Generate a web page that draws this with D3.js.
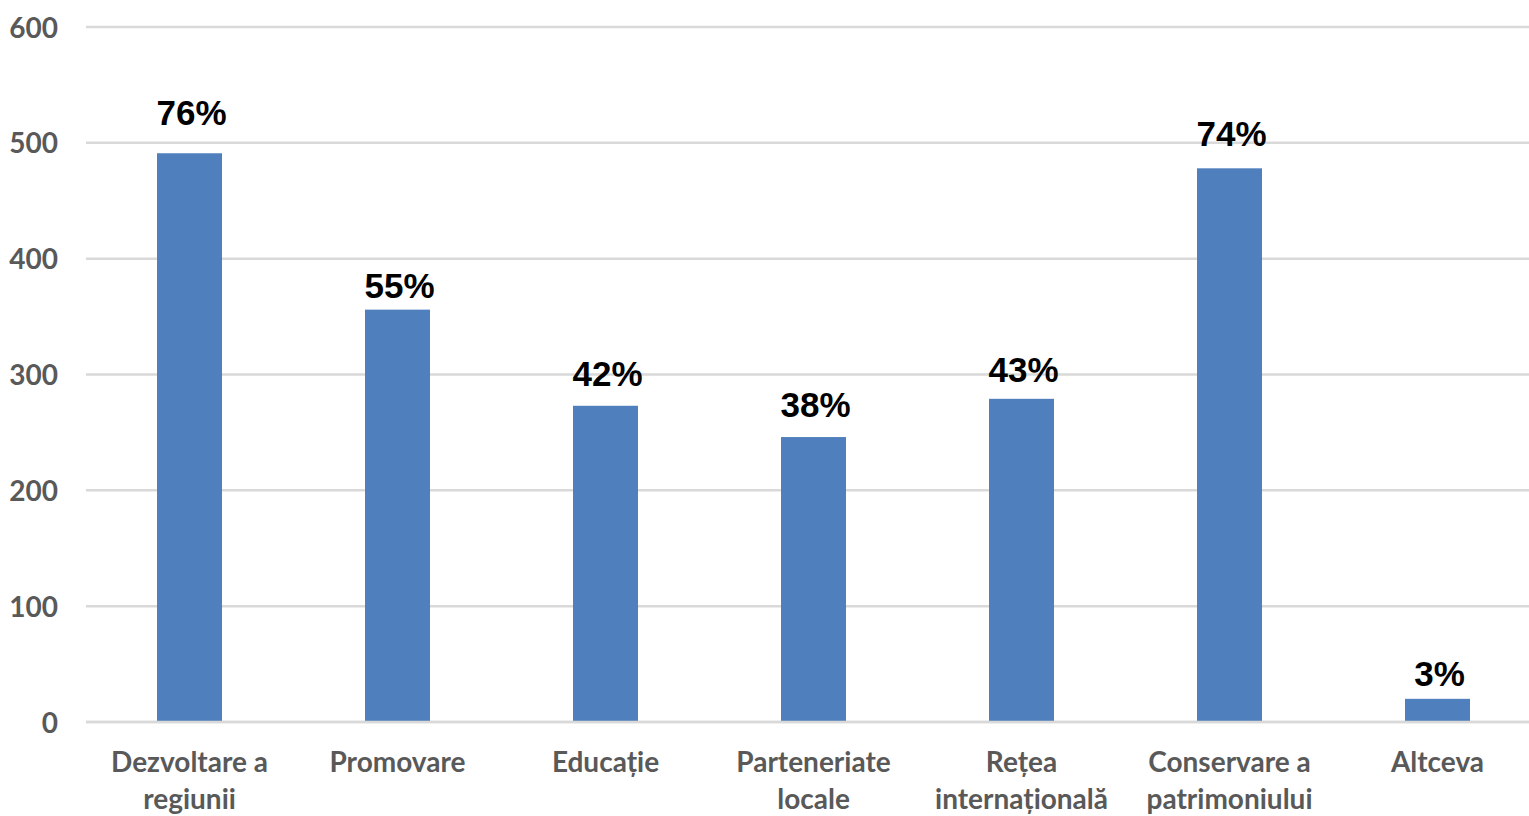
<!DOCTYPE html>
<html>
<head>
<meta charset="utf-8">
<script src="https://cdn.jsdelivr.net/npm/d3@7/dist/d3.min.js"></script>
<style>
  html, body { margin: 0; padding: 0; background: #fff; }
  svg { display: block; }
</style>
</head>
<body>
<svg id="chart" width="1529" height="816"></svg>
<script>
// ---- data ----
const categories = [
  ["Dezvoltare a", "regiunii"],
  ["Promovare"],
  ["Educație"],
  ["Parteneriate", "locale"],
  ["Rețea", "internațională"],
  ["Conservare a", "patrimoniului"],
  ["Altceva"]
];
const values = [491, 356, 273, 246, 279, 478, 20];
const percentLabels = ["76%", "55%", "42%", "38%", "43%", "74%", "3%"];
const yTicks = [0, 100, 200, 300, 400, 500, 600];
// label gap above bar (px), as placed in the original
const labelGap = [28, 12, 20, 20, 17, 22, 13];

// ---- layout ----
const svg = d3.select("#chart");

const x = d3.scaleBand()
  .domain(d3.range(categories.length))
  .range([85.5, 1541.5])
  .paddingInner(0.6875)
  .paddingOuter(0.34375);

const y = d3.scaleLinear().domain([0, 600]).range([722, 27]);

// gridlines
svg.append("g").selectAll("line")
  .data(yTicks)
  .join("line")
  .attr("x1", 86).attr("x2", 1529)
  .attr("y1", d => y(d)).attr("y2", d => y(d))
  .attr("stroke", "#d9d9d9")
  .attr("stroke-width", 2.5);

// y axis labels
const yAxis = d3.axisLeft(y).tickValues(yTicks).tickSize(0).tickPadding(0);
const gy = svg.append("g").attr("transform", "translate(58,0)").call(yAxis);
gy.select(".domain").remove();
gy.selectAll("text")
  .attr("font-family", "Lato, 'Open Sans', sans-serif")
  .attr("font-weight", "bold")
  .attr("font-size", 28)
  .attr("fill", "#595959")
  .attr("dy", "0.36em");

// bars
svg.append("g").selectAll("rect")
  .data(values)
  .join("rect")
  .attr("x", (d, i) => x(i))
  .attr("width", x.bandwidth())
  .attr("y", d => y(d))
  .attr("height", d => y(0) - y(d))
  .attr("fill", "#4f7fbd");

// baseline redraw over bars
svg.append("line")
  .attr("x1", 86).attr("x2", 1529)
  .attr("y1", y(0)).attr("y2", y(0))
  .attr("stroke", "#d9d9d9").attr("stroke-width", 2.5);

// percent labels
svg.append("g").selectAll("text")
  .data(values)
  .join("text")
  .attr("x", (d, i) => x(i) + x.bandwidth() / 2 + 2)
  .attr("y", (d, i) => y(d) - labelGap[i])
  .attr("text-anchor", "middle")
  .attr("font-family", "'Liberation Sans', Arial, sans-serif")
  .attr("font-weight", "bold")
  .attr("font-size", 35)
  .attr("fill", "#000")
  .text((d, i) => percentLabels[i]);

// category labels
const xAxis = d3.axisBottom(x).tickSize(0).tickFormat(() => "");
const gx = svg.append("g").attr("transform", `translate(0,${y(0)})`).call(xAxis);
gx.select(".domain").remove();
gx.selectAll(".tick").each(function(i) {
  const t = d3.select(this).select("text")
    .attr("y", 0).attr("dy", null)
    .attr("font-family", "Lato, 'Open Sans', sans-serif")
    .attr("font-weight", "bold")
    .attr("font-size", 28)
    .attr("fill", "#595959")
    .attr("text-anchor", "middle");
  categories[i].forEach((line, k) => {
    t.append("tspan").attr("x", 0).attr("y", 50 + k * 37).text(line);
  });
});
</script>
</body>
</html>
